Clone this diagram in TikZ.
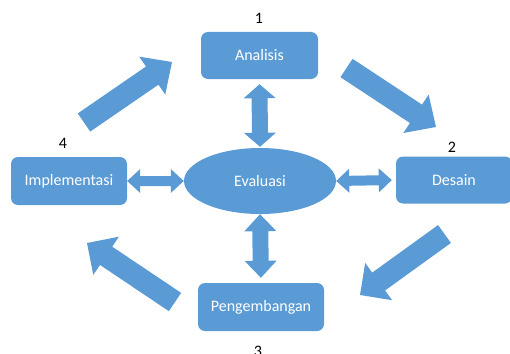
\documentclass[tikz,border=0pt]{standalone}
\usepackage{fontspec}
\setmainfont{Carlito}
\usetikzlibrary{calc, shapes.geometric}
\definecolor{phaseBlue}{RGB}{91, 155, 213}

% block arrow: tail, tip, half shaft, half head, head length
\newcommand\blockarrow[5]{%
  \coordinate (ba-h) at ($(#2)!#5pt!(#1)$);
  \fill[phaseBlue] ($(#1)!#3pt!90:(#2)$) -- ($(ba-h)!#3pt!90:(#2)$)
    -- ($(ba-h)!#4pt!90:(#2)$) -- (#2) -- ($(ba-h)!#4pt!-90:(#2)$)
    -- ($(ba-h)!#3pt!-90:(#2)$) -- ($(#1)!#3pt!-90:(#2)$) -- cycle;}
% two-headed arrow: from, to, half shaft, half head, head length, gap at from, gap at to
\newcommand\dblarrow[7]{%
  \coordinate (da-s) at ($(#1)!#6pt!(#2)$);
  \coordinate (da-e) at ($(#2)!#7pt!(#1)$);
  \coordinate (da-a) at ($(da-s)!#5pt!(da-e)$);
  \coordinate (da-b) at ($(da-e)!#5pt!(da-s)$);
  \fill[phaseBlue] (da-s) -- ($(da-a)!#4pt!90:(da-e)$) -- ($(da-a)!#3pt!90:(da-e)$)
    -- ($(da-b)!#3pt!90:(da-e)$) -- ($(da-b)!#4pt!90:(da-e)$) -- (da-e)
    -- ($(da-b)!#4pt!-90:(da-e)$) -- ($(da-b)!#3pt!-90:(da-e)$)
    -- ($(da-a)!#3pt!-90:(da-e)$) -- ($(da-a)!#4pt!-90:(da-e)$) -- cycle;}

\begin{document}
\begin{tikzpicture}[x=1pt, y=-1pt, font=\fontsize{16}{19}\selectfont,
    phase/.style={fill=phaseBlue, rounded corners=7pt, text=white,
                  minimum height=47pt, inner sep=0pt},
    numlbl/.style={text=black, inner sep=0pt}]
  \useasboundingbox (0, 0) rectangle (510, 353);
  \clip (0, 0) rectangle (510, 353);
  % the four phases and the centre
  \node[phase, minimum width=117pt] (ana) at (259.5, 55.5) {Analisis};
  \node[phase, minimum width=116pt] (des) at (454, 180) {Desain};
  \node[phase, minimum width=126pt, minimum height=48pt] (pen) at (261, 307) {Pengembangan};
  \node[phase, minimum width=116pt, minimum height=48pt] (imp) at (69, 181) {Implementasi};
  \node[ellipse, fill=phaseBlue, text=white, minimum width=152pt,
        minimum height=66pt, inner sep=0pt] (eva) at (260, 181) {Evaluasi};
  % step numbers
  \node[numlbl] (n1) at (259, 18) {1};
  \node[numlbl] (n2) at (452, 147) {2};
  \node[numlbl] (n3) at (258, 351) {3};
  \node[numlbl] (n4) at (63, 143) {4};
  % cycle arrows
  \coordinate (t1) at (346.5, 68);  \coordinate (h1) at (436, 127);
  \coordinate (t2) at (444.5, 234); \coordinate (h2) at (360, 295);
  \coordinate (t3) at (175, 302);   \coordinate (h3) at (87, 243);
  \coordinate (t4) at (84, 122.5);  \coordinate (h4) at (172, 62);
  \blockarrow{t1}{h1}{11}{23}{24}
  \blockarrow{t2}{h2}{11}{23}{23}
  \blockarrow{t3}{h3}{11}{23}{23}
  \blockarrow{t4}{h4}{11}{23}{24}
  % links to evaluation
  \dblarrow{ana.south}{eva.north}{8}{16}{14}{5}{1}
  \dblarrow{eva.south}{pen.north}{8}{16}{17}{0}{5}
  \dblarrow{imp.east}{eva.west}{5}{12}{13}{0}{0}
  \dblarrow{eva.east}{des.west}{5}{12}{13}{0}{4}
\end{tikzpicture}
\end{document}
